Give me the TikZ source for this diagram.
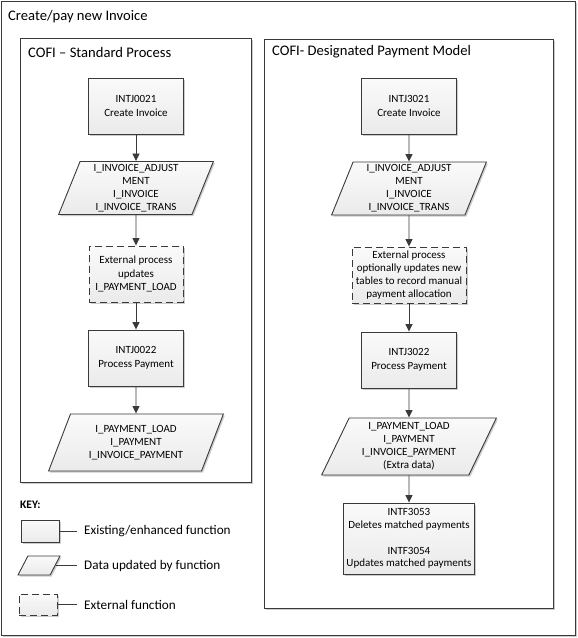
\documentclass[tikz,border=0pt]{standalone}
\usepackage{fontspec}
\setmainfont{Carlito}
\usetikzlibrary{shapes.geometric,shadows,arrows.meta}
\definecolor{ln}{HTML}{3A3A3A}
\newcommand\bxf{\fontsize{11}{13.6}\selectfont}
\newcommand\pxf{\fontsize{11}{12.9}\selectfont}
\newcommand\ttf{\fontsize{14.6}{17}\selectfont}
\newcommand\lgf{\fontsize{13.2}{15}\selectfont}
\begin{document}
\begin{tikzpicture}[x=1pt,y=-1pt,
  shd/.style={drop shadow={shadow xshift=1.5pt,shadow yshift=-1.5pt,fill=black!20,opacity=1}},
  fn/.style={draw=ln,line width=0.9pt,top color=black!2,bottom color=black!8,shd,minimum width=95pt,minimum height=56pt,align=center,font=\bxf,inner sep=1pt},
  ext/.style={fn,dash pattern=on 7pt off 4pt},
  dat/.style={trapezium,draw=ln,line width=0.9pt,top color=black!2,bottom color=black!8,shd,trapezium stretches=true,align=center,font=\pxf,inner sep=0pt},
  datA/.style={dat,minimum width=155pt,minimum height=53pt,trapezium left angle=71,trapezium right angle=109},
  datB/.style={dat,minimum width=175pt,minimum height=57pt,trapezium left angle=65.5,trapezium right angle=114.5},
  arr/.style={draw=ln,line width=0.9pt,-{Triangle[length=7.5pt,width=7pt]}},
  panel/.style={draw=ln,line width=0.9pt,fill=white,shd},
  ttl/.style={anchor=west,inner sep=0pt,font=\ttf},
  lgt/.style={anchor=west,inner xsep=7pt,inner ysep=0pt,font=\lgf},
  lgl/.style={draw=ln,line width=0.8pt},
]
\useasboundingbox (0,0) rectangle (578,638);
\draw[panel] (1,1) rectangle (575,635);
\node[ttl] (title) at (8,17) {Create/pay new Invoice};
\draw[panel] (20,38) rectangle (251,482);
\node[ttl] (lt) at (28,52) {COFI – Standard Process};
\draw[panel] (264,39) rectangle (553,608);
\node[ttl] (rt) at (272,52) {COFI- Designated Payment Model};

% left column
\node[fn] (a1) at (136,106) {INTJ0021\\Create Invoice};
\node[datA] (a2) at (136,188) {I\_INVOICE\_ADJUST\\MENT\\I\_INVOICE\\I\_INVOICE\_TRANS};
\node[ext,minimum width=94pt] (a3) at (136,274) {External process\\updates\\I\_PAYMENT\_LOAD};
\node[fn] (a4) at (136,358) {INTJ0022\\Process Payment};
\node[datB] (a5) at (136,442.5) {I\_PAYMENT\_LOAD\\I\_PAYMENT\\I\_INVOICE\_PAYMENT};
\draw[arr] (a1) -- (a2);
\draw[arr] (a2) -- (a3);
\draw[arr] (a3) -- (a4);
\draw[arr] (a4) -- (a5);

% right column
\node[fn] (b1) at (409,106) {INTJ3021\\Create Invoice};
\node[datA] (b2) at (409,188.5) {I\_INVOICE\_ADJUST\\MENT\\I\_INVOICE\\I\_INVOICE\_TRANS};
\node[ext,minimum width=114pt,font=\pxf] (b3) at (409,275) {External process\\optionally updates new\\tables to record manual\\payment allocation};
\node[fn] (b4) at (409,360) {INTJ3022\\Process Payment};
\node[datB] (b5) at (409,446.5) {I\_PAYMENT\_LOAD\\I\_PAYMENT\\I\_INVOICE\_PAYMENT\\(Extra data)};
\node[fn,font=\pxf,minimum width=131pt,minimum height=71pt] (b6) at (409,538.5) {INTF3053\\Deletes matched payments\\[12.9pt]INTF3054\\Updates matched payments};
\draw[arr] (b1) -- (b2);
\draw[arr] (b2) -- (b3);
\draw[arr] (b3) -- (b4);
\draw[arr] (b4) -- (b5);
\draw[arr] (b5) -- (b6);

% key
\node[anchor=west,inner sep=0pt,font=\fontsize{11.5}{13}\selectfont\bfseries] (key) at (20,505) {KEY:};
\node[fn,minimum width=38pt,minimum height=22pt] (k1) at (40,531) {};
\node[lgt] (t1) at (77,531) {Existing/enhanced function};
\draw[lgl] (k1) -- (t1);
\node[dat,inner sep=1pt,minimum width=42pt,minimum height=19pt,trapezium left angle=66,trapezium right angle=114] (k2) at (39,565.5) {};
\node[lgt] (t2) at (77,565.5) {Data updated by function};
\draw[lgl] (k2) -- (t2);
\node[ext,minimum width=38pt,minimum height=21pt] (k3) at (38,604.5) {};
\node[lgt] (t3) at (77,604.5) {External function};
\draw[lgl] (k3) -- (t3);
\end{tikzpicture}
\end{document}
